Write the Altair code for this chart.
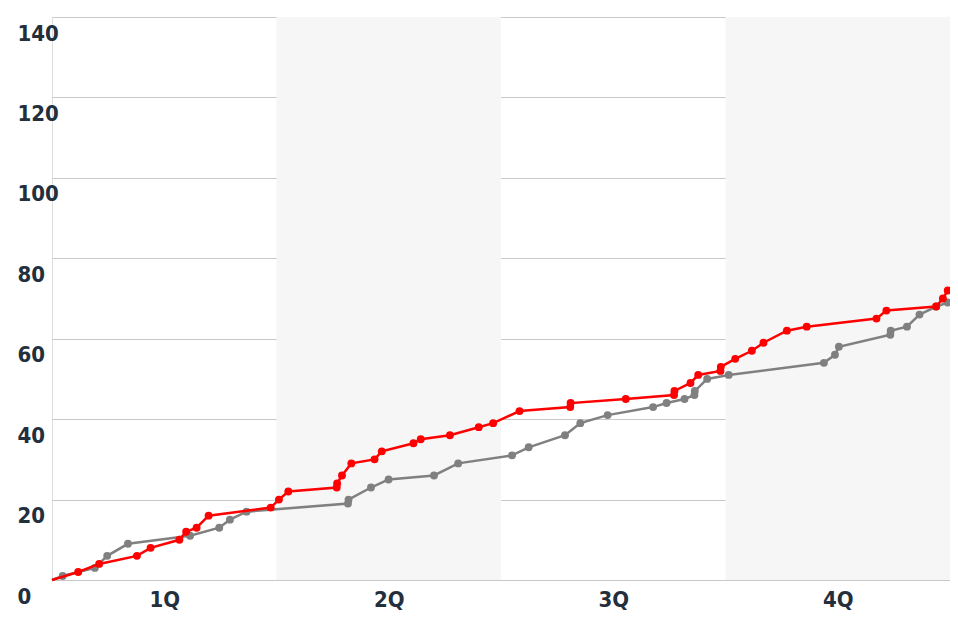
import altair as alt
import pandas as pd

# Game flow: elapsed minutes and cumulative score
red_time = [0, 1.4, 2.52, 4.54, 5.27, 6.81, 7.17, 7.73, 8.37, 11.69, 12.13, 12.63,
            15.22, 15.24, 15.5, 16.0, 17.24, 17.63, 19.32, 19.71, 21.27, 22.81, 23.58,
            24.99, 27.7, 27.72, 30.67, 33.25, 33.27, 34.13, 34.54, 35.73, 35.75, 36.52,
            37.41, 38.03, 39.28, 40.34, 44.07, 44.6, 47.26, 47.62, 47.88]
red_score = [0, 2, 4, 6, 8, 10, 12, 13, 16, 18, 20, 22,
             23, 24, 26, 29, 30, 32, 34, 35, 36, 38, 39,
             42, 43, 44, 45, 46, 47, 49, 51, 52, 53, 55,
             57, 59, 62, 63, 65, 67, 68, 70, 72]

gray_time = [0, 0.57, 2.29, 2.95, 4.06, 7.38, 8.94, 9.51, 10.4, 15.82, 15.85, 17.05,
             17.99, 20.42, 21.71, 24.59, 25.48, 27.42, 28.24, 29.7, 32.13, 32.85, 33.81,
             34.34, 34.36, 35.02, 36.17, 41.26, 41.85, 42.06, 44.81, 44.83, 45.7, 46.37,
             47.26, 47.88]
gray_score = [0, 1, 3, 6, 9, 11, 13, 15, 17, 19, 20, 23,
              25, 26, 29, 31, 33, 36, 39, 41, 43, 44, 45,
              46, 47, 50, 51, 54, 56, 58, 61, 62, 63, 66,
              68, 69]

band_start = [12, 36]
band_end = [24, 48]
quarter_ticks = [6, 18, 30, 42]
quarter_labels = ["1Q", "2Q", "3Q", "4Q"]
y_ticks = [0, 20, 40, 60, 80, 100, 120, 140]

FONT = "DejaVu Sans Condensed, Roboto, sans-serif"
LABEL_COLOR = "#232f3c"

red_df = pd.DataFrame({"t": red_time, "score": red_score, "team": "red"})
gray_df = pd.DataFrame({"t": gray_time, "score": gray_score, "team": "gray"})
bands_df = pd.DataFrame({"start": band_start, "end": band_end})

label_map = "{" + ",".join(f"'{v}':'{l}'" for v, l in zip(quarter_ticks, quarter_labels)) + "}"

x_scale = alt.Scale(domain=[0, 48], nice=False, zero=False)
y_scale = alt.Scale(domain=[0, 140], nice=False)

x_axis = alt.Axis(values=quarter_ticks, labelExpr=f"{label_map}[datum.value]", grid=False,
                  ticks=False, domain=False, title=None, labelFont=FONT, labelFontSize=22,
                  labelFontWeight="bold", labelColor=LABEL_COLOR, labelBaseline="middle",
                  labelPadding=19, labelAlign="center")
y_axis = alt.Axis(values=y_ticks, grid=True, gridColor="#c9c9c9", gridWidth=1, ticks=False,
                  domain=False, title=None, labelFont=FONT, labelFontSize=22,
                  labelFontWeight="bold", labelColor=LABEL_COLOR, labelAlign="left",
                  labelPadding=35, labelBaseline="middle", labelOffset=16)

bands = alt.Chart(bands_df).mark_rect(color="#f6f6f6").encode(
    x=alt.X("start:Q", scale=x_scale, axis=x_axis),
    x2="end:Q",
    y=alt.value(0),
    y2=alt.value(563),
)

def team_layers(df, color):
    line = alt.Chart(df).mark_line(color=color, strokeWidth=2.5).encode(
        x=alt.X("t:Q", scale=x_scale, axis=x_axis),
        y=alt.Y("score:Q", scale=y_scale, axis=y_axis),
        order="t:Q",
    )
    pts = alt.Chart(df[df["t"] > 0]).mark_circle(color=color, size=62, opacity=1).encode(
        x=alt.X("t:Q", scale=x_scale),
        y=alt.Y("score:Q", scale=y_scale),
    )
    return [line, pts]

chart = alt.layer(
    bands,
    *team_layers(gray_df, "#808080"),
    *team_layers(red_df, "#ff0000"),
).properties(
    width=898, height=563,
    autosize=alt.AutoSizeParams(type="none"),
    padding={"left": 44, "top": 9, "right": 0, "bottom": 50},
).configure_view(stroke=None).configure(background="white")

chart.save("out.html", embed_options={"renderer": "svg", "actions": False})
